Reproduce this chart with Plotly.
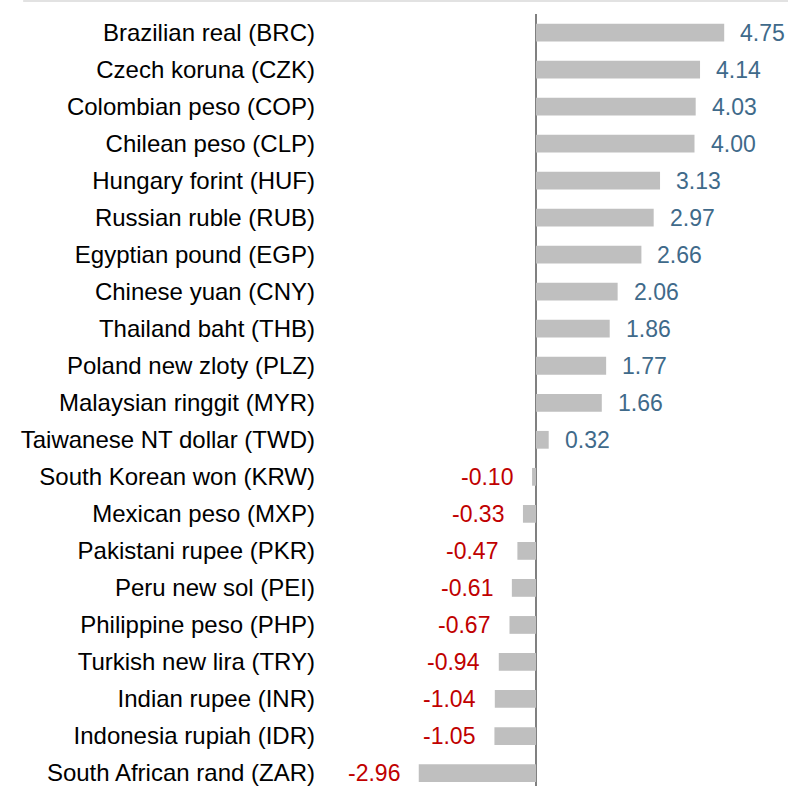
import plotly.graph_objects as go

currencies = [
    "Brazilian real (BRC)", "Czech koruna (CZK)", "Colombian peso (COP)",
    "Chilean peso (CLP)", "Hungary forint (HUF)", "Russian ruble (RUB)",
    "Egyptian pound (EGP)", "Chinese yuan (CNY)", "Thailand baht (THB)",
    "Poland new zloty (PLZ)", "Malaysian ringgit (MYR)", "Taiwanese NT dollar (TWD)",
    "South Korean won (KRW)", "Mexican peso (MXP)", "Pakistani rupee (PKR)",
    "Peru new sol (PEI)", "Philippine peso (PHP)", "Turkish new lira (TRY)",
    "Indian rupee (INR)", "Indonesia rupiah (IDR)", "South African rand (ZAR)",
]
values = [4.75, 4.14, 4.03, 4.00, 3.13, 2.97, 2.66, 2.06, 1.86, 1.77, 1.66, 0.32,
          -0.10, -0.33, -0.47, -0.61, -0.67, -0.94, -1.04, -1.05, -2.96]

POS_COLOR = "#3f6a8a"
NEG_COLOR = "#c00000"
FONT = "Liberation Sans, Arial, sans-serif"
FS = 23
LABEL_FS = 24

fig = go.Figure(go.Bar(
    x=values, y=currencies, orientation="h",
    marker=dict(color="#bfbfbf", line=dict(width=0)),
    width=0.48, hoverinfo="x+y",
))

for v, c in zip(values, currencies):
    fig.add_annotation(
        x=v, y=c, xref="x", yref="y", text=f"{v:.2f}", showarrow=False,
        xanchor="left" if v >= 0 else "right", yanchor="middle",
        xshift=14 if v >= 0 else -17,
        font=dict(family=FONT, size=FS, color=POS_COLOR if v >= 0 else NEG_COLOR),
    )

fig.add_shape(type="line", xref="paper", yref="paper", x0=-0.67, x1=1, y0=1.017, y1=1.017,
              line=dict(color="#d9d9d9", width=1.5))

fig.update_layout(
    width=788, height=786,
    margin=dict(l=330, r=0, t=14, b=0, autoexpand=False),
    paper_bgcolor="white", plot_bgcolor="white",
    showlegend=False,
    font=dict(family=FONT, size=FS, color="#000000"),
    xaxis=dict(range=[-5.2, 6.36], showgrid=False, showticklabels=False, ticks="",
               zeroline=True, zerolinecolor="#808080", zerolinewidth=1.5, showline=False),
    yaxis=dict(range=[20.35, -0.5], showgrid=False, ticks="", showline=False,
               ticklabelstandoff=14, tickfont=dict(family=FONT, size=LABEL_FS, color="#000000"),
               automargin=False),
)

fig.write_html("out.html", config={"displayModeBar": False},
               post_script="document.body.style.margin='0px';")
